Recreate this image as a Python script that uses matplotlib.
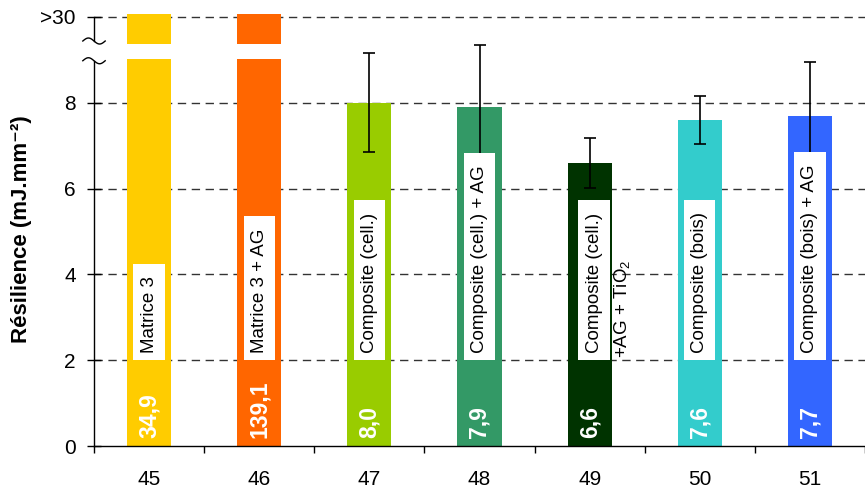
import matplotlib
matplotlib.use("Agg")
import matplotlib.pyplot as plt
import numpy as np

plt.rcParams['font.family'] = ['Liberation Sans', 'DejaVu Sans']
plt.rcParams['mathtext.fontset'] = 'custom'
plt.rcParams['mathtext.rm'] = 'Liberation Sans'
plt.rcParams['mathtext.bf'] = 'Liberation Sans:bold'
plt.rcParams['mathtext.it'] = 'Liberation Sans:italic'

# ---- data ----
categories = ['45', '46', '47', '48', '49', '50', '51']
values = [34.9, 139.1, 8.0, 7.9, 6.6, 7.6, 7.7]
errors = [0, 0, 1.15, 1.45, 0.58, 0.55, 1.25]
value_labels = ['34,9', '139,1', '8,0', '7,9', '6,6', '7,6', '7,7']
names = ['Matrice 3', 'Matrice 3 + AG', 'Composite (cell.)', 'Composite (cell.) + AG',
         'Composite (cell.)', 'Composite (bois)', 'Composite (bois) + AG']
names_extra = ['', '', '', '', '+AG + TiO$_2$', '', '']
colors = ['#FFCC00', '#FF6600', '#99CC00', '#339966', '#003300', '#33CCCC', '#3366FF']
ytick_vals = [0, 2, 4, 6, 8, 10]
ytick_labels = ['0', '2', '4', '6', '8', '>30']

# broken axis display settings
cap_top = 10.07
gap_lo, gap_hi = 9.02, 9.37

fig = plt.figure(figsize=(8.65, 4.88), dpi=100)
ax = fig.add_axes([94/865, 42/488, 771/865, (446-12.7)/488])
ax.set_ylim(0, 10.1)
ax.set_xlim(-0.5, 6.415)

x = np.arange(len(categories))
width = 0.40
for i, v in enumerate(values):
    if v > 10:
        ax.bar(x[i], gap_lo, width=width, color=colors[i], zorder=2)
        ax.bar(x[i], cap_top - gap_hi, bottom=gap_hi, width=width, color=colors[i],
               zorder=2, clip_on=False)
    else:
        ax.bar(x[i], v, width=width, color=colors[i], zorder=2)
        ax.errorbar(x[i], v, yerr=errors[i], fmt='none', ecolor='black',
                    elinewidth=1.2, capsize=4.5, capthick=1.2, zorder=3)

# grid
for yv in ytick_vals[1:]:
    ax.axhline(yv, color='#333333', lw=1.0, ls=(0, (6, 4)), zorder=1)

# name labels in white boxes
for i, nm in enumerate(names):
    dx = 0.04 if names_extra[i] else 0.0
    ax.text(x[i] + dx, 2.0 + 0.17, nm + ' ', rotation=90, ha='center', va='bottom',
            fontsize=13.5, color='black', zorder=4,
            bbox=dict(boxstyle='square,pad=0.38', facecolor='white', edgecolor='none'))
    if names_extra[i]:
        ax.text(x[i] + 0.29, 2.0 + 0.06, names_extra[i], rotation=90, ha='center',
                va='bottom', fontsize=13.5, color='black', zorder=4)

# value labels
for i, vl in enumerate(value_labels):
    ax.text(x[i], 0.18, vl, rotation=90, ha='center', va='bottom',
            fontsize=16.5, fontweight='bold', color='white', zorder=4)

# axes styling
for s in ['top', 'right', 'left']:
    ax.spines[s].set_visible(False)
ax.spines['bottom'].set_linewidth(1.0)

ax.set_yticks(ytick_vals)
ax.set_yticklabels(ytick_labels, fontsize=15)
ax.tick_params(axis='y', direction='inout', length=10, width=1.0, pad=8)

ax.set_xticks(x)
ax.set_xticklabels(categories, fontsize=15)
ax.set_xticks(np.arange(-0.5, 7.0, 1.0), minor=True)
ax.tick_params(axis='x', which='major', length=0, pad=17)
ax.tick_params(axis='x', which='minor', direction='out', length=5, width=1.0)

# broken left spine
tr = ax.get_yaxis_transform()
ax.plot([0, 0], [0, 8.98], color='black', lw=1.0, transform=tr, clip_on=False, zorder=5)
ax.plot([0, 0], [9.44, 10.0], color='black', lw=1.0, transform=tr, clip_on=False, zorder=5)
t = np.linspace(-1, 1, 40)
wx = t * 0.0145
for yc in (8.98, 9.44):
    wy = yc - 0.07 * np.sin(np.pi * t)
    ax.plot(wx, wy, color='black', lw=1.0, transform=tr, clip_on=False, zorder=5)

ax.set_ylabel('Résilience (mJ.mm⁻²)', fontsize=16, fontweight='bold')
ax.yaxis.set_label_coords(-0.08, 0.5)

fig.savefig('out.png', dpi=100)
